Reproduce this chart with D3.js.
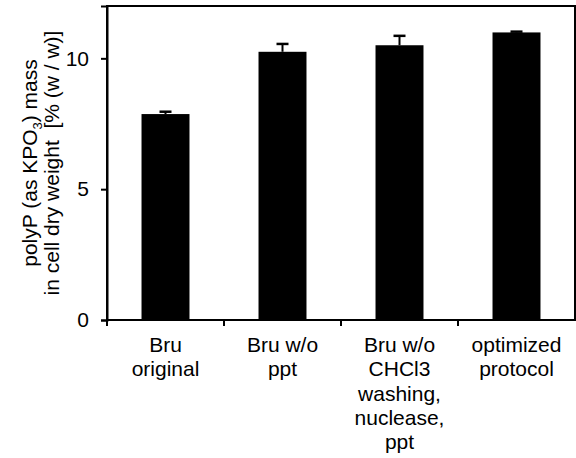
<!DOCTYPE html>
<html><head><meta charset="utf-8">
<script src="https://cdn.jsdelivr.net/npm/d3@7"></script>
<style>body{margin:0;background:#fff}svg{display:block}text{font-family:"Liberation Sans",Arial,sans-serif;fill:#000}</style>
</head><body><svg id="c" width="576" height="458"></svg>
<script>
const categories = ["Bru original","Bru w/o ppt","Bru w/o CHCl3 washing, nuclease, ppt","optimized protocol"];
const labelLines = [["Bru","original"],["Bru w/o","ppt"],["Bru w/o","CHCl3","washing,","nuclease,","ppt"],["optimized","protocol"]];
const values = [7.87, 10.25, 10.50, 10.99];
const errors = [0.09, 0.30, 0.36, 0.03];
const yTicks = [0, 5, 10];

const svg = d3.select("#c");
const m = {l:107, t:6, r:575, b:320};
const x = d3.scaleBand().domain(categories).range([m.l, m.r]).paddingInner(0.59).paddingOuter(0.295);
const y = d3.scaleLinear().domain([0, 12]).range([m.b, m.t]);

// bars
svg.selectAll("rect.bar").data(values).join("rect")
  .attr("x",(d,i)=>x(categories[i])).attr("width",x.bandwidth())
  .attr("y",d=>y(d)).attr("height",d=>y(0)-y(d)).attr("fill","#000");

// error bars
const eg = svg.selectAll("g.err").data(values).join("g");
eg.append("line").attr("x1",(d,i)=>x(categories[i])+x.bandwidth()/2).attr("x2",(d,i)=>x(categories[i])+x.bandwidth()/2)
  .attr("y1",d=>y(d)).attr("y2",(d,i)=>y(d+errors[i])).attr("stroke","#000").attr("stroke-width",2);
eg.append("line").attr("x1",(d,i)=>x(categories[i])+x.bandwidth()/2-6).attr("x2",(d,i)=>x(categories[i])+x.bandwidth()/2+6)
  .attr("y1",(d,i)=>y(d+errors[i])).attr("y2",(d,i)=>y(d+errors[i])).attr("stroke","#000").attr("stroke-width",2.5);

// frame
svg.append("rect").attr("x",m.l).attr("y",m.t).attr("width",m.r-m.l).attr("height",m.b-m.t)
  .attr("fill","none").attr("stroke","#000").attr("stroke-width",2);

// y axis
const ya = svg.append("g").attr("transform",`translate(${m.l},0)`)
  .call(d3.axisLeft(y).tickValues(yTicks).tickSize(6).tickPadding(12).tickFormat(d3.format("d")));
ya.select(".domain").attr("stroke-width",2);
ya.selectAll(".tick line").attr("stroke-width",2);
ya.selectAll("text").style("font-size","21px").attr("font-family",null);

// x axis: ticks at band boundaries
const bounds = categories.map(c=>x(c)-x.step()*x.paddingInner()/2);
const xa = svg.append("g");
xa.selectAll("line").data(bounds).join("line").attr("x1",d=>d).attr("x2",d=>d)
  .attr("y1",m.b).attr("y2",m.b+6).attr("stroke","#000").attr("stroke-width",2);
const xl = xa.selectAll("text").data(labelLines).join("text")
  .attr("text-anchor","middle").style("font-size","21px")
  .attr("transform",(d,i)=>`translate(${x(categories[i])+x.bandwidth()/2},${m.b+32})`);
xl.selectAll("tspan").data(d=>d).join("tspan").attr("x",0).attr("y",(d,j)=>j*24.3).text(d=>d);

// y title
const tt = svg.append("text").attr("text-anchor","middle").style("font-size","21px").style("white-space","pre")
  .attr("transform",`translate(37,${(m.t+m.b)/2}) rotate(-90)`);
tt.append("tspan").attr("x",0).attr("y",0).text("polyP (as KPO");
tt.append("tspan").attr("dy",5).style("font-size","13px").text("3");
tt.append("tspan").attr("dy",-5).text(") mass");
tt.append("tspan").attr("x",0).attr("y",22).text("in cell dry weight  [% (w / w)]");
</script></body></html>
